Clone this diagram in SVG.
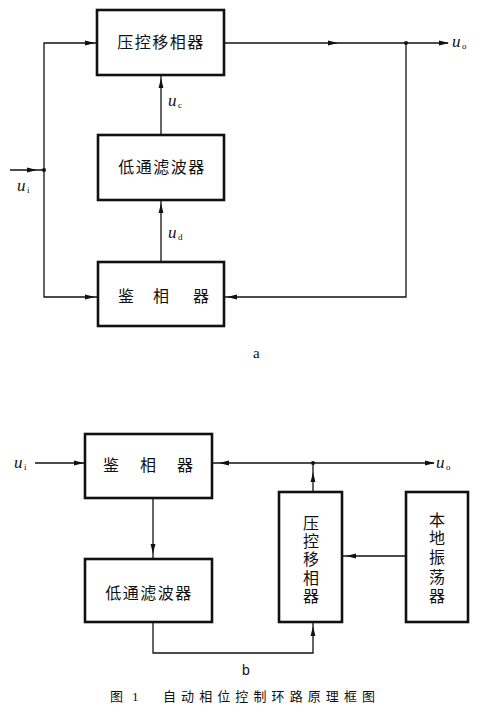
<svg xmlns="http://www.w3.org/2000/svg" xmlns:xlink="http://www.w3.org/1999/xlink" width="480" height="715" viewBox="0 0 480 715">
<style>
.box{fill:#fff;stroke:#111;stroke-width:2.6}
.ln{fill:none;stroke:#111;stroke-width:1.3}
.cn{font-family:"Liberation Serif","Noto Sans CJK SC",serif;font-size:16px;fill:#111;text-anchor:middle}
.lab{font-family:"Liberation Serif",serif;font-style:italic;font-size:17px;fill:#111}
.sub{font-family:"Liberation Serif",serif;font-size:9px;fill:#111}
.cap{font-family:"Liberation Serif","Noto Sans CJK SC",serif;font-size:13px;fill:#111}
.dot{fill:#111}
.ah{fill:#111}
</style>
<defs>
<path id="ah" class="ah" d="M0,0 L-10,-2.4 L-10,2.4 Z"/>
</defs>
<g id="connectors">
<path class="ln" d="M10,170 H44"/>
<path class="ln" d="M97,43 H44 V297 H97"/>
<path class="ln" d="M224,43 H448"/>
<path class="ln" d="M406,43 V297 H224"/>
<path class="ln" d="M161,135 V76"/>
<path class="ln" d="M161,262 V200"/>
<circle class="dot" cx="44" cy="170" r="2"/>
<circle class="dot" cx="406" cy="43" r="2"/>
<use xlink:href="#ah" transform="translate(37,170)"/>
<use xlink:href="#ah" transform="translate(95,43)"/>
<use xlink:href="#ah" transform="translate(338,43)"/>
<use xlink:href="#ah" transform="translate(449,43)"/>
<use xlink:href="#ah" transform="translate(161,78) rotate(-90)"/>
<use xlink:href="#ah" transform="translate(161,203) rotate(-90)"/>
<use xlink:href="#ah" transform="translate(95,297)"/>
<use xlink:href="#ah" transform="translate(227,297) rotate(180)"/>
<path class="ln" d="M35,463 H85"/>
<path class="ln" d="M212,463 H434"/>
<path class="ln" d="M313,463 V492"/>
<path class="ln" d="M153,498 V559"/>
<path class="ln" d="M406,556 H342"/>
<path class="ln" d="M153,622 V653 H313 V622"/>
<circle class="dot" cx="313" cy="463" r="2"/>
<use xlink:href="#ah" transform="translate(84,463)"/>
<use xlink:href="#ah" transform="translate(219,463) rotate(180)"/>
<use xlink:href="#ah" transform="translate(435,463)"/>
<use xlink:href="#ah" transform="translate(313,472) rotate(-90)"/>
<use xlink:href="#ah" transform="translate(153,554) rotate(90)"/>
<use xlink:href="#ah" transform="translate(346,556) rotate(180)"/>
<use xlink:href="#ah" transform="translate(313,626) rotate(-90)"/>
</g>
<g id="a-vcps">
<rect class="box" x="97" y="10" width="127" height="65"/>
<text class="cn" x="161" y="48" letter-spacing="1.5">压控移相器</text>
</g>
<g id="a-lpf">
<rect class="box" x="98" y="135" width="126" height="65"/>
<text class="cn" x="162" y="173" letter-spacing="1.5">低通滤波器</text>
</g>
<g id="a-pd">
<rect class="box" x="98" y="262" width="126" height="64"/>
<text class="cn" x="126 161 201" y="302">鉴相器</text>
</g>
<g id="b-pd">
<rect class="box" x="85" y="434" width="127" height="64"/>
<text class="cn" x="111 148 185" y="471">鉴相器</text>
</g>
<g id="b-lpf">
<rect class="box" x="85" y="559" width="127" height="63"/>
<text class="cn" x="149" y="599" letter-spacing="1.5">低通滤波器</text>
</g>
<g id="b-vcps">
<rect class="box" x="279" y="492" width="63" height="130"/>
<text class="cn" x="311" y="529">压</text>
<text class="cn" x="311" y="547">控</text>
<text class="cn" x="311" y="565">移</text>
<text class="cn" x="311" y="584">相</text>
<text class="cn" x="311" y="602">器</text>
</g>
<g id="b-lo">
<rect class="box" x="406" y="492" width="62" height="130"/>
<text class="cn" x="437" y="526">本</text>
<text class="cn" x="437" y="544">地</text>
<text class="cn" x="437" y="563">振</text>
<text class="cn" x="437" y="583">荡</text>
<text class="cn" x="437" y="602">器</text>
</g>
<g id="labels">
<text class="lab" x="452" y="47">u</text><text class="sub" x="462" y="49">o</text>
<text class="lab" x="168" y="106">u</text><text class="sub" x="178" y="108">c</text>
<text class="lab" x="17" y="191">u</text><text class="sub" x="27" y="193">i</text>
<text class="lab" x="168" y="238">u</text><text class="sub" x="178" y="240" font-size="11">d</text>
<text class="lab" x="14" y="468">u</text><text class="sub" x="24" y="470">i</text>
<text class="lab" x="436" y="468">u</text><text class="sub" x="446" y="470">o</text>
<text x="253" y="358" font-family="Liberation Serif,serif" font-size="15" fill="#111">a</text>
<text x="242" y="675" font-family="Liberation Sans,sans-serif" font-size="14" fill="#111">b</text>
<text class="cap" x="110" y="701">图</text>
<text class="cap" x="132" y="701" font-family="Liberation Sans,sans-serif">1</text>
<text class="cap" x="163" y="701" textLength="212" lengthAdjust="spacing">自动相位控制环路原理框图</text>
</g>
</svg>
